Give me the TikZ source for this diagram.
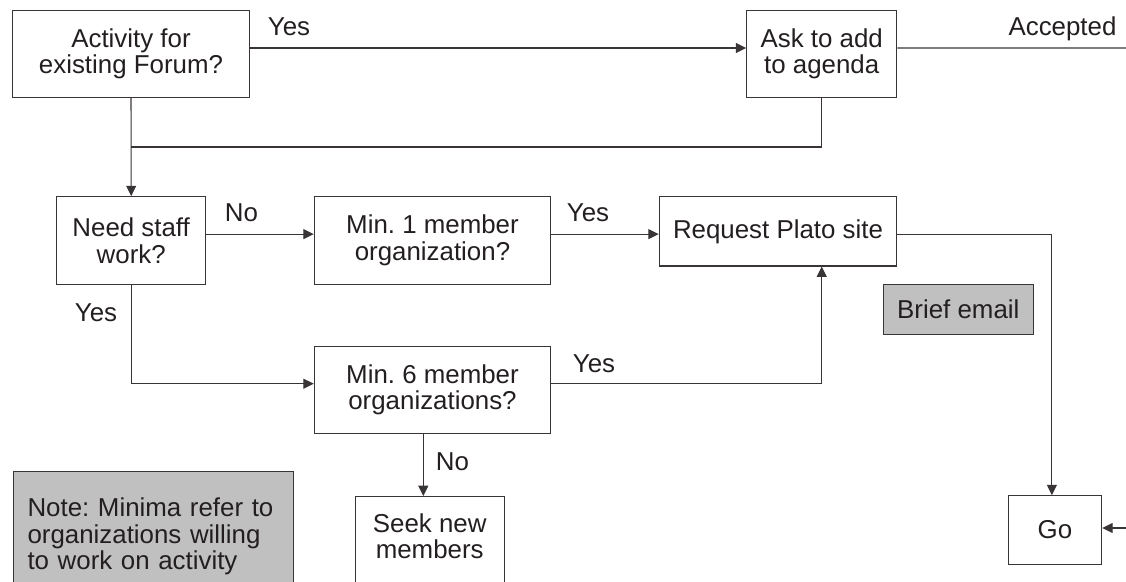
\documentclass[tikz,border=0pt]{standalone}
\usepackage{fontspec}
\setmainfont{Liberation Sans}
\usetikzlibrary{arrows.meta}
\definecolor{ink}{HTML}{231F20}
\definecolor{shade}{HTML}{C0C0C0}
\frenchspacing
\begin{document}
\begin{tikzpicture}[x=0.025cm,y=-0.025cm,
	font=\fontsize{18.4}{18.9}\selectfont, text=ink,
	box/.style={draw=ink!90, line width=0.75pt, align=center, inner sep=0pt},
	tag/.style={inner sep=0pt, anchor=base},
	link/.style={draw=ink!90, line width=0.75pt},
	arr/.style={link, -{Triangle[length=0.26cm,width=0.25cm]}}]
		\clip (0,0) rectangle (1126,581);
		% boxes
		\node[box, minimum width=5.9cm, minimum height=2.165cm] (f) at (131,54) {Activity for\\existing Forum?};
		\node[box, minimum width=3.75cm, minimum height=2.165cm] (ag) at (821.7,54) {Ask to add\\to agenda};
		\node[box, minimum width=3.725cm, minimum height=2.19cm] (st) at (131.2,240.5) {Need staff\\work?};
		\node[box, minimum width=5.91cm, minimum height=2.19cm] (m1) at (432.5,240.5) {Min. 1 member\\organization?};
		\node[box, minimum width=5.935cm, minimum height=1.73cm] (pl) at (778,231.4) {Request Plato site};
		\node[box, fill=shade, minimum width=3.75cm, minimum height=1.25cm] (em) at (958.3,309.3) {Brief email};
		\node[box, minimum width=5.91cm, minimum height=2.18cm] (m6) at (432.5,389.7) {Min. 6 member\\organizations?};
		\node[box, minimum width=3.73cm, anchor=north, inner ysep=0.42cm, text depth=2cm] (sk) at (429.7,496) {Seek new\\members};
		\node[box, fill=shade, anchor=north west, align=left, text width=6.3cm, inner xsep=0.35cm, inner ysep=0.66cm, text depth=2cm] (nt) at (13,471) {Note: Minima refer to\\organizations willing\\to work on activity};
		\node[box, minimum width=2.34cm, minimum height=1.715cm] (go) at (1054.9,530) {Go};
		% labels
		\node[tag] (y1) at (289,35) {Yes};
		\node[tag] (ac) at (1062.5,35) {Accepted};
		\node[tag] (n1) at (241.5,221.7) {No};
		\node[tag] (y2) at (96,321.7) {Yes};
		\node[tag] (y3) at (588,221.7) {Yes};
		\node[tag] (y4) at (594,372.7) {Yes};
		\node[tag] (n2) at (452.5,470.7) {No};
		% free ends
		\coordinate (acc) at (1126,48);
		\coordinate (jn) at (131,147);
		\coordinate (gi) at (1126,528);
		% connectors
		\draw[arr] ([yshift=0.15cm]f.east) -- ([yshift=0.15cm]ag.west);
		\draw[link] ([yshift=0.15cm]ag.east) -- (acc);
		\draw[arr] (f.south) -- (st.north);
		\draw[link] (ag.south) |- (jn);
		\draw[arr] ([yshift=0.16cm]st.east) -- ([yshift=0.16cm]m1.west);
		\draw[arr] ([yshift=0.16cm]m1.east) -- ([yshift=0.16cm]m1.east -| pl.west);
		\draw[arr] (st.south) |- ([yshift=0.15cm]m6.west);
		\draw[arr] ([yshift=0.15cm]m6.east) -| (ag.south |- pl.south);
		\draw[arr] ([yshift=-0.07cm]pl.east) -| ([xshift=-0.075cm]go.north);
		\draw[arr] (gi) -- (gi -| go.east);
		\draw[arr] ([xshift=-0.23cm]m6.south) -- ([xshift=-0.23cm]m6.south |- sk.north);
	\end{tikzpicture}
\end{document}
